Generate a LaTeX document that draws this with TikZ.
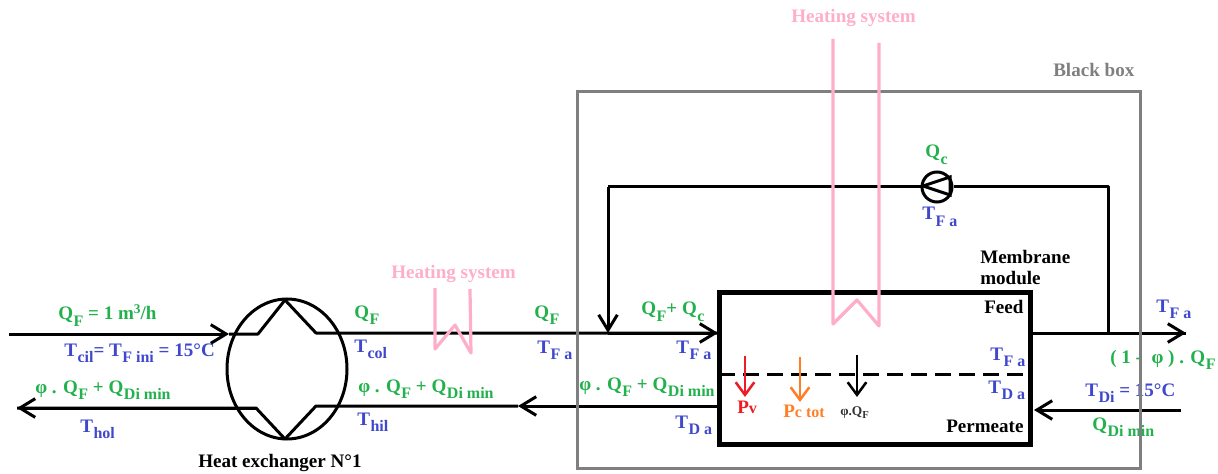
\documentclass[tikz,border=0pt]{standalone}
\usepackage{fontspec}
\setmainfont{Liberation Serif}
\usepackage{xcolor}
\usetikzlibrary{arrows.meta, positioning, shapes.geometric}

\definecolor{flowgreen}{HTML}{22B14C}
\definecolor{tempblue}{HTML}{3F48CC}
\definecolor{heatpink}{HTML}{FFAEC9}
\definecolor{boxgray}{HTML}{7F7F7F}
\definecolor{powerred}{HTML}{ED1C24}
\definecolor{powerorange}{HTML}{FF7F27}

\newcommand{\dn}[1]{\kern0.4pt\raisebox{-0.75ex}{\fontsize{12}{14}\selectfont #1}}
\newcommand{\upp}[1]{\raisebox{0.7ex}{\fontsize{10}{12}\selectfont #1}}

\begin{document}
\begin{tikzpicture}[x=0.75pt, y=-0.75pt,
		lbl/.style={anchor=base west, inner sep=0pt, font=\fontsize{14.3}{16}\selectfont\bfseries},
		qlbl/.style={lbl, text=flowgreen},
		tlbl/.style={lbl, text=tempblue},
		hlbl/.style={lbl, text=heatpink},
		pipe/.style={line width=2.25pt, line join=bevel},
		flow/.style={pipe, -{Straight Barb[length=11.5pt, width=14pt, line width=2.25pt]}},
		power/.style={line width=1.9pt, -{Straight Barb[length=9.5pt, width=14pt, line width=1.9pt]}},
		heat/.style={line width=2.4pt, heatpink, line join=round}]
	\useasboundingbox (0, 0) rectangle (1218, 474);
	% Nodes and points of the wires:
	\node[ellipse, draw, line width=2.25pt, minimum width=90pt, minimum height=105pt, inner sep=0pt](HX) at (287, 369){};
	\node[rectangle, draw, line width=3.75pt, minimum width=233.6pt, minimum height=114pt, inner sep=0pt](M1) at (875.2, 368){};
	\node[circle, draw, line width=2.25pt, minimum size=22.5pt, inner sep=0pt, fill=white](P1) at (937, 187){};
	\coordinate (A1) at (9, 334);
	\coordinate (A2) at (229, 334);
	\coordinate (A3) at (258, 334);
	\coordinate (A4) at (285, 300);
	\coordinate (A5) at (316, 333);
	\coordinate (A6) at (608, 333);
	\coordinate (A7) at (718, 333);
	\coordinate (B1) at (717, 406);
	\coordinate (B2) at (518, 406);
	\coordinate (B3) at (316, 406);
	\coordinate (B4) at (285, 439);
	\coordinate (B5) at (256, 408);
	\coordinate (B6) at (17, 408);
	\coordinate (C1) at (1033, 333);
	\coordinate (C2) at (1108, 333);
	\coordinate (C3) at (1186, 333);
	\coordinate (C4) at (1108, 187);
	\coordinate (C5) at (608, 187);
	\coordinate (D1) at (1181, 410);
	\coordinate (D2) at (1034, 410);
	\coordinate (E1) at (719, 374);
	\coordinate (E2) at (1031, 374);
	\coordinate (F1) at (923, 186);
	\coordinate (F2) at (950, 177);
	\coordinate (F3) at (950, 195);
	% Paths and wires:
	\draw[flow] (A1) -- (A2);
	\draw[pipe] (A2) -- (A3) -- (A4) -- (A5) -- (A6) -- (A7);
	\draw[flow] (A6) -- (A7);
	\draw[flow] (B1) -- (B2);
	\draw[pipe] (B2) -- (B3) -- (B4) -- (B5) -- (B6);
	\draw[flow] (B5) -- (B6);
	\draw[pipe] (C1) -- (C3);
	\draw[flow] (C2) -- (C3);
	\draw[pipe] (C2) -- (C4) -- (P1.east);
	\draw[pipe] (P1.west) -- (C5);
	\draw[flow] (C5) -- (A6);
	\draw[flow] (D1) -- (D2);
	\draw[line width=2.25pt] (F2) -- (F1) -- (F3) -- cycle;
	\draw[line width=2.25pt, dash pattern=on 12pt off 6pt] (E1) -- (E2);
	% Small arrows through the membrane:
	\coordinate (G1) at (745, 356);
	\coordinate (G2) at (745, 397);
	\coordinate (G3) at (800, 357);
	\coordinate (G4) at (800, 402);
	\coordinate (G5) at (857, 355);
	\coordinate (G6) at (857, 397);
	\draw[power, powerred] (G1) -- (G2);
	\draw[power, powerorange] (G3) -- (G4);
	\draw[power, black] (G5) -- (G6);
	% Labels:
	\node[qlbl](Q1) at (58, 320){Q\dn{F} = 1 m\upp{3}/h};
	\node[tlbl](T1) at (64, 356){T\dn{cil}= T\dn{F ini} = 15°C};
	\node[qlbl](Q2) at (35, 393){φ . Q\dn{F} + Q\dn{Di min}};
	\node[tlbl](T2) at (80, 432){T\dn{hol}};
	\node[lbl](N1) at (198, 467){Heat exchanger N°1};
	\node[qlbl](Q3) at (354, 318){Q\dn{F}};
	\node[tlbl](T3) at (354, 352){T\dn{col}};
	\node[qlbl](Q4) at (358, 392){φ . Q\dn{F} + Q\dn{Di min}};
	\node[tlbl](T4) at (357, 425){T\dn{hil}};
	\node[qlbl](Q5) at (534, 318){Q\dn{F}};
	\node[tlbl](T5) at (537, 353){T\dn{F a}};
	\node[qlbl](Q6) at (641, 315){Q\dn{F}+ Q\dn{c}};
	\node[tlbl](T6) at (676, 353){T\dn{F a}};
	\node[qlbl](Q7) at (579, 390){φ . Q\dn{F} + Q\dn{Di min}};
	\node[tlbl](T7) at (675, 428){T\dn{D a}};
	\node[lbl](N2) at (984, 313){Feed};
	\node[tlbl](T8) at (990, 360){T\dn{F a}};
	\node[tlbl](T9) at (988, 393){T\dn{D a}};
	\node[lbl](N3) at (946, 432){Permeate};
	\node[tlbl](T10) at (1156, 312){T\dn{F a}};
	\node[qlbl](Q8) at (1110, 363){( 1 - \ φ ) . Q\dn{F}};
	\node[tlbl](T11) at (1085, 396){T\dn{Di} = 15°C};
	\node[qlbl](Q9) at (1092, 430){Q\dn{Di min}};
	\node[lbl, text=powerred](R1) at (737, 413){P\raisebox{0pt}{\fontsize{12}{14}\selectfont v}};
	\node[lbl, text=powerorange](R2) at (783, 417){P\raisebox{0pt}{\fontsize{12}{14}\selectfont c tot}};
	\node[lbl, text=black!80, font=\fontsize{10}{12}\selectfont\bfseries](R3) at (840, 415){φ.Q\raisebox{-0.6ex}{\fontsize{8}{10}\selectfont F}};
	\node[qlbl](Q10) at (925, 158){Q\dn{c}};
	\node[tlbl](T12) at (922, 220){T\dn{F a}};
	\node[lbl](N4) at (980, 263){Membrane};
	\node[lbl](N5) at (980, 285){module};
	% Black box and heating systems on top:
	\node[rectangle, draw=boxgray, line width=2.25pt, minimum width=422.25pt, minimum height=282pt, inner sep=0pt](BB) at (858.5, 280){};
	\node[lbl, text=boxgray](N6) at (1053, 77){Black box};
	\coordinate (H1) at (435, 288);
	\coordinate (H2) at (435, 349);
	\coordinate (H3) at (455, 325);
	\coordinate (H4) at (471, 353);
	\coordinate (H5) at (470, 289);
	\draw[heat] (H1) -- (H2) -- (H3) -- (H4) -- (H5);
	\node[hlbl](H6) at (391, 278){Heating system};
	\coordinate (J1) at (833, 39);
	\coordinate (J2) at (833, 324);
	\coordinate (J3) at (857, 300);
	\coordinate (J4) at (879, 326);
	\coordinate (J5) at (879, 43);
	\draw[heat] (J1) -- (J2) -- (J3) -- (J4) -- (J5);
	\node[hlbl](J6) at (791, 23){Heating system};
\end{tikzpicture}
\end{document}
